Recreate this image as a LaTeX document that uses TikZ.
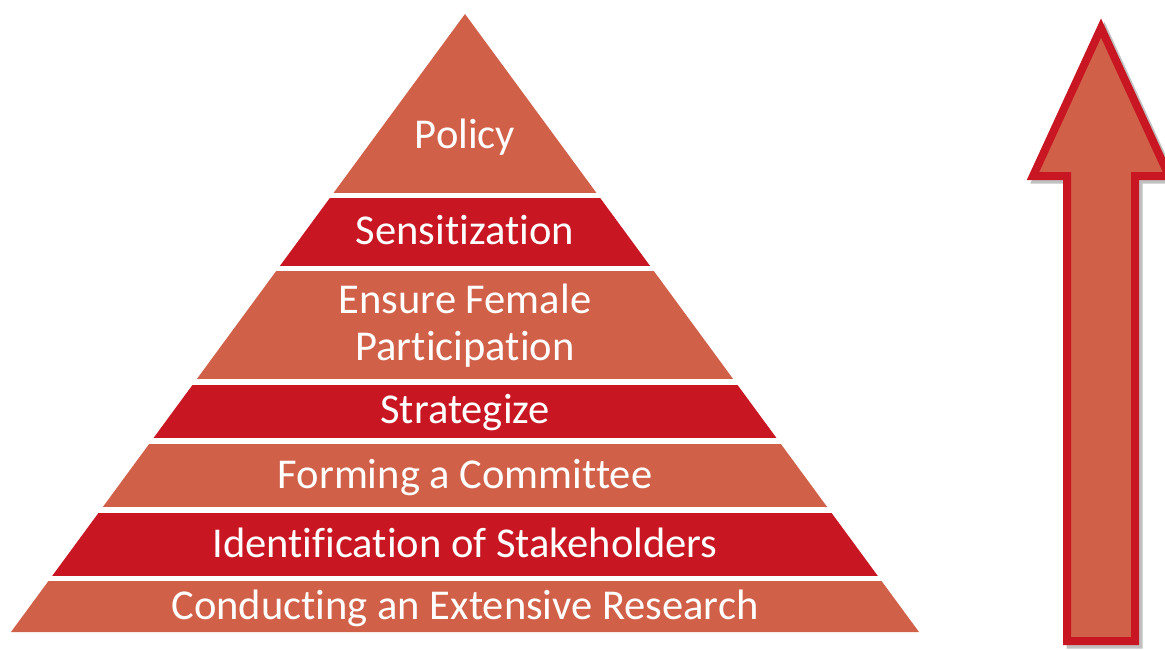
\documentclass[tikz,border=0pt]{standalone}
\usepackage{fontspec}
\setmainfont{Carlito}[Ligatures=NoCommon]
\usepackage{tikz}
\definecolor{layerLight}{RGB}{209,96,73}
\definecolor{layerDark}{RGB}{200,22,34}
\definecolor{shadowGrey}{RGB}{192,192,192}

\begin{document}
\begin{tikzpicture}[x=0.02cm, y=-0.02cm,
    layerText/.style={text=white, align=center, anchor=base,
      font=\fontsize{24.2}{26.6}\selectfont}]

    \useasboundingbox (0, 0) rectangle (1165, 649);

    % pyramid, cut into bands by white gaps
    \begin{scope}
      \clip (465, 14) -- (919, 632) -- (11, 632) -- cycle;
      \fill[layerLight] (0, 0)   rectangle (1165, 193);
      \fill[layerDark]  (0, 198) rectangle (1165, 266);
      \fill[layerLight] (0, 271) rectangle (1165, 379);
      \fill[layerDark]  (0, 385) rectangle (1165, 438);
      \fill[layerLight] (0, 444) rectangle (1165, 507);
      \fill[layerDark]  (0, 513) rectangle (1165, 576);
      \fill[layerLight] (0, 581) rectangle (1165, 640);
    \end{scope}

    \node[layerText] (policy) at (465, 148) {Policy};
    \node[layerText] (sensitization) at (465, 244) {Sensitization};
    \node[layerText, anchor=center] (femaleParticipation) at (465, 326)
      {Ensure Female \\ Participation};
    \node[layerText] (strategize) at (465, 423) {Strategize};
    \node[layerText] (committee) at (465, 488) {Forming a Committee};
    \node[layerText] (stakeholders) at (465, 557) {Identification of Stakeholders};
    \node[layerText] (research) at (465, 619) {Conducting an Extensive Research};

    % upward arrow with its shadow
    \draw[shadowGrey, fill=shadowGrey, line width=0.16cm, miter limit=10, xshift=0.07cm, yshift=-0.07cm]
      (1101, 28) -- (1169, 176) -- (1135, 176) -- (1135, 641)
      -- (1067, 641) -- (1067, 176) -- (1033, 176) -- cycle;
    \draw[layerDark, fill=layerLight, line width=0.16cm, miter limit=10]
      (1101, 28) -- (1169, 176) -- (1135, 176) -- (1135, 641)
      -- (1067, 641) -- (1067, 176) -- (1033, 176) -- cycle;
  \end{tikzpicture}
\end{document}
